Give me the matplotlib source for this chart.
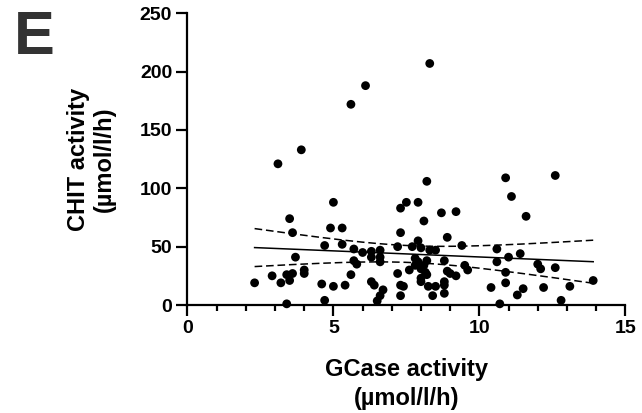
import numpy as np
import matplotlib
matplotlib.use('Agg')
import matplotlib.pyplot as plt

plt.rcParams['font.family'] = ['Liberation Sans', 'DejaVu Sans']
plt.rcParams['font.weight'] = 'bold'

# GCase activity (umol/l/h)
gcase = [2.3, 2.9, 3.1, 3.2, 3.4, 3.4, 3.5, 3.5, 3.6, 3.6,
         3.7, 3.9, 4.0, 4.0, 4.6, 4.7, 4.7, 4.9, 5.0, 5.0,
         5.3, 5.3, 5.4, 5.6, 5.6, 5.7, 5.7, 5.8, 6.0, 6.1,
         6.3, 6.3, 6.3, 6.4, 6.6, 6.6, 6.6, 6.7, 6.6, 6.5,
         7.2, 7.2, 7.3, 7.3, 7.3, 7.4, 7.3, 7.5, 7.6, 7.7,
         7.8, 7.9, 7.8, 7.9, 7.9, 8.0, 8.0, 8.0, 8.0, 8.1,
         8.1, 8.15, 8.2, 8.2, 8.2, 8.25, 8.3, 8.3, 8.4, 8.5,
         8.5, 8.7, 8.8, 8.8, 8.8, 8.8, 8.9, 8.9, 9.0, 9.2,
         9.2, 9.4, 9.5, 9.6, 10.4, 10.6, 10.6, 10.7, 10.9, 10.9,
         10.9, 11.0, 11.1, 11.3, 11.4, 11.5, 11.6, 12.0, 12.1, 12.2,
         12.6, 12.6, 12.8, 13.1, 13.9]

# CHIT activity (umol/l/h)
chit = [19, 25, 121, 19, 26, 1, 21, 74, 27, 62,
        41, 133, 30, 27, 18, 51, 4, 66, 88, 16,
        66, 52, 17, 172, 26, 48, 38, 35, 45, 188,
        46, 41, 20, 17, 47, 41, 37, 13, 8, 3.5,
        50, 27, 83, 62, 17, 16, 8, 88, 30, 50,
        40, 37, 34, 88, 55, 49, 31, 23, 20, 72,
        34, 28, 38, 26, 106, 16, 207, 47, 8, 47,
        16, 79, 38, 20, 17, 10, 58, 29, 27, 80,
        25, 51, 34, 30, 15, 48, 37, 1, 109, 28,
        19, 41, 93, 8.6, 44, 14, 76, 35, 31, 15,
        111, 32, 4, 16, 21]

x_ticks = [0, 5, 10, 15]
y_ticks = [0, 50, 100, 150, 200, 250]

x = np.array(gcase)
y = np.array(chit)

# linear regression with 95% confidence band
n = len(x)
slope, intercept = np.polyfit(x, y, 1)
resid = y - (slope * x + intercept)
s = np.sqrt(np.sum(resid ** 2) / (n - 2))
sxx = np.sum((x - x.mean()) ** 2)
xs = np.linspace(x.min(), x.max(), 200)
fit = slope * xs + intercept
se = s * np.sqrt(1.0 / n + (xs - x.mean()) ** 2 / sxx)
t_val = 1.984
upper = fit + t_val * se
lower = fit - t_val * se

fig = plt.figure(figsize=(6.42, 4.13), dpi=100)
ax = fig.add_axes([0.292, 0.2615, 0.682, 0.7063])

ax.scatter(x, y, s=40, c='black', edgecolors='none', zorder=3, clip_on=False)
ax.plot(xs, fit, color='black', lw=1.1, zorder=2)
ax.plot(xs, upper, color='black', lw=1.1, ls=(0, (5, 2.5)), zorder=2)
ax.plot(xs, lower, color='black', lw=1.1, ls=(0, (5, 2.5)), zorder=2)

ax.set_xlim(0, 15)
ax.set_ylim(0, 250)
ax.set_xticks(x_ticks)
ax.set_xticks(np.arange(0, 16, 1), minor=True)
ax.set_yticks(y_ticks)

for side in ['top', 'right']:
    ax.spines[side].set_visible(False)
for side in ['left', 'bottom']:
    ax.spines[side].set_linewidth(1.6)

ax.tick_params(axis='both', which='major', length=8, width=1.6,
               labelsize=14, pad=3)
ax.tick_params(axis='x', which='minor', length=4.5, width=1.6)
for lab in ax.get_xticklabels() + ax.get_yticklabels():
    lab.set_fontweight('bold')

ax.set_xlabel('GCase activity\n(µmol/l/h)', fontsize=17, fontweight='bold',
              labelpad=15, linespacing=1.3)
ax.set_ylabel('CHIT activity\n(µmol/l/h)', fontsize=17, fontweight='bold',
              labelpad=17, linespacing=1.15)

fig.text(0.022, 0.975, 'E', fontsize=44, fontweight='bold', color='#333333',
         ha='left', va='top')

fig.savefig('out.png', dpi=100)
